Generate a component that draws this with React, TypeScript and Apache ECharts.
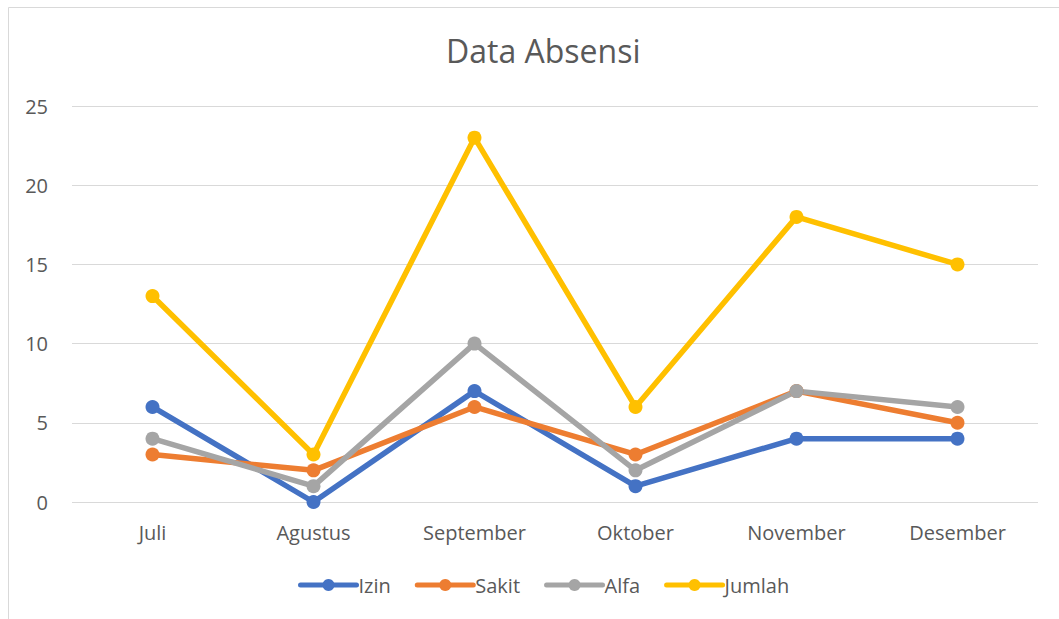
import React, { useEffect, useRef } from "react";
import * as echarts from "echarts";

const categories = ["Juli", "Agustus", "September", "Oktober", "November", "Desember"];
const izin = [6, 0, 7, 1, 4, 4];
const sakit = [3, 2, 6, 3, 7, 5];
const alfa = [4, 1, 10, 2, 7, 6];
const jumlah = [13, 3, 23, 6, 18, 15];
const seriesNames = ["Izin", "Sakit", "Alfa", "Jumlah"];
const seriesColors = ["#4472C4", "#ED7D31", "#A5A5A5", "#FFC000"];

const FONT = "'Open Sans', sans-serif";

export default function App() {
  const ref = useRef<HTMLDivElement>(null);
  useEffect(() => {
    if (!ref.current) return;
    const chart = echarts.init(ref.current, undefined, { renderer: "svg" });
    const dataSets = [izin, sakit, alfa, jumlah];
    chart.setOption({
      animation: false,
      backgroundColor: "#ffffff",
      title: {
        text: "Data Absensi",
        left: 441,
        top: 29,
        textStyle: { fontFamily: FONT, fontSize: 32, fontWeight: "normal", color: "#595959" },
      },
      graphic: [
        {
          type: "rect",
          shape: { x: 8.5, y: 7.5, width: 1200, height: 800 },
          style: { fill: "none", stroke: "#d9d9d9", lineWidth: 1 },
          silent: true,
        },
      ],
      legend: {
        top: 570,
        left: 293,
        itemWidth: 56,
        itemHeight: 15,
        itemGap: 24,
        lineStyle: { width: 5, cap: "round" },
        textStyle: { fontFamily: FONT, fontSize: 20, color: "#595959", padding: [0, 0, 0, -3] },
        data: seriesNames,
      },
      grid: { left: 72, right: 21, top: 106, bottom: 117, containLabel: false },
      xAxis: {
        type: "category",
        data: categories,
        boundaryGap: true,
        axisLine: { show: false },
        axisTick: { show: false },
        axisLabel: { fontFamily: FONT, fontSize: 20, color: "#595959", margin: 20 },
      },
      yAxis: {
        type: "value",
        min: 0,
        max: 25,
        interval: 5,
        axisLine: { show: false },
        axisTick: { show: false },
        splitLine: { lineStyle: { color: "#d9d9d9", width: 1 } },
        axisLabel: { fontFamily: FONT, fontSize: 20, color: "#595959", margin: 24 },
      },
      series: seriesNames.map((name, i) => ({
        name,
        type: "line",
        data: dataSets[i],
        color: seriesColors[i],
        symbol: "circle",
        symbolSize: 14,
        lineStyle: { width: 5.5, cap: "round", join: "round" },
        itemStyle: { color: seriesColors[i] },
      })),
    });
    return () => chart.dispose();
  }, []);
  return (
    <div
      ref={ref}
      style={{ position: "fixed", left: 0, top: 0, width: 1059, height: 619 }}
    />
  );
}
